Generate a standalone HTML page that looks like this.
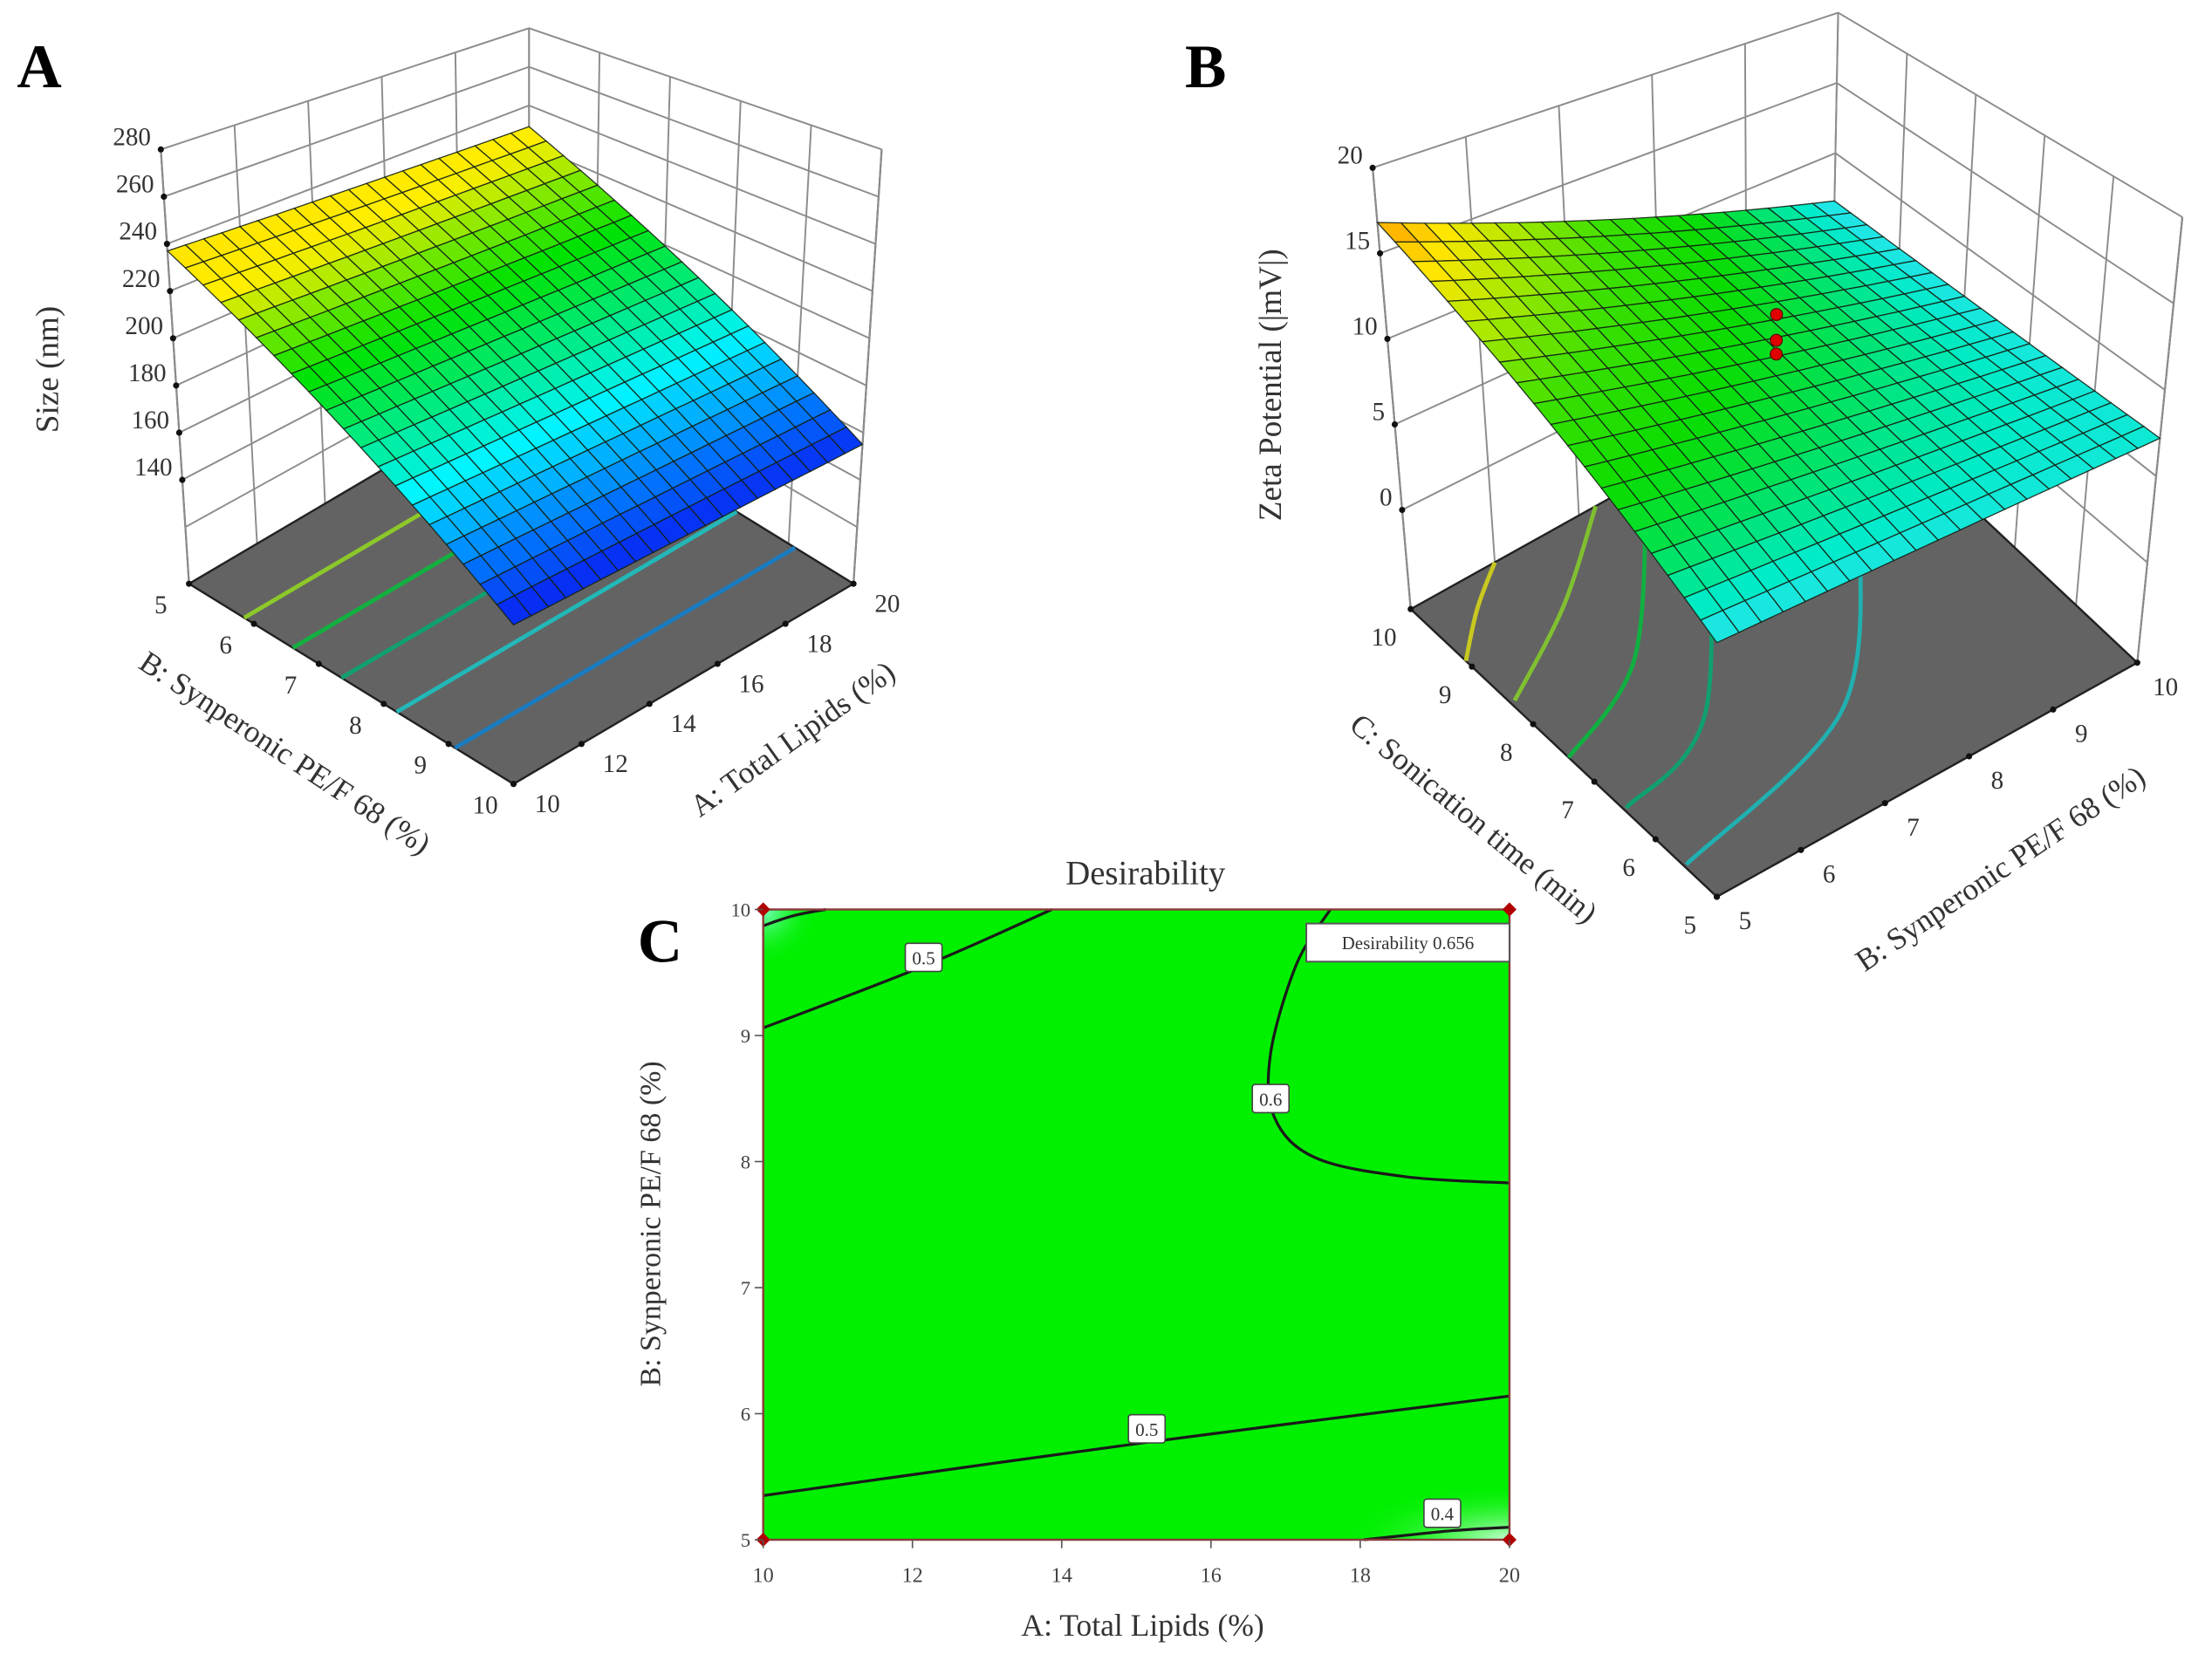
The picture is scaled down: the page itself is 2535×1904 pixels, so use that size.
<!DOCTYPE html>
<html><head><meta charset="utf-8"><title>Response surfaces</title>
<style>
html,body{margin:0;padding:0;background:#fff;}
svg{display:block;font-family:"Liberation Serif",serif;}
</style></head>
<body>
<svg id="fig" xmlns="http://www.w3.org/2000/svg" width="2535" height="1904" viewBox="0 0 1568 1178" preserveAspectRatio="none">
<rect x="0" y="0" width="1568" height="1178" fill="#fff"/>
<g id="panelA"></g>
<g id="panelB"></g>
<g id="panelC"></g>
<text x="12" y="62" font-size="44" font-weight="bold">A</text>
<text x="840" y="62" font-size="44" font-weight="bold">B</text>
<text x="452" y="682" font-size="44" font-weight="bold">C</text>
</svg>
<script>
// ---------- Panel A data ----------
const aLevels = [10, 20];            // A: Total Lipids (%)
const bLevelsA = [5, 10];            // B: Synperonic (%)
const sizeValues = [[237, 153], [229, 155]]; // [A index][B index], nm
const sizeTicks = [140, 160, 180, 200, 220, 240, 260, 280];
const sizeGridLines = [120, 140, 160, 180, 200, 220, 240, 260, 280];
const aTicksA = [10, 12, 14, 16, 18, 20];
const bTicksA = [5, 6, 7, 8, 9, 10];
const sizeFloorContours = [5.85, 6.6, 7.35, 8.2, 9.1];
const sizeContourColors = ['#8cc82a', '#12b040', '#10a070', '#22b8b8', '#1a7cc0'];

// ---------- Panel B data ----------
const bLevelsB = [5, 10];            // B: Synperonic (%)
const cLevels = [5, 10];             // C: Sonication time (min)
const zetaValues = [[6.7, 16.8], [7.2, 6.6]]; // [B index][C index]
const zetaTicks = [0, 5, 10, 15, 20];
const bTicksB = [5, 6, 7, 8, 9, 10];
const cTicksB = [5, 6, 7, 8, 9, 10];
const designB = [7.5, 7.5, 7.5];
const designC = [7.5, 7.5, 7.5];
const designZ = [12.9, 11.4, 10.6];
const zetaContourB = [
  [5.0, 5.5, 6.0],
  [5.05, 6.16, 7.2],
  [5.0, 6.28, 7.8],
  [5.03, 6.4, 8.5],
  [5.03, 7.38, 8.9]
];
const zetaContourC = [
  [9.1, 9.6, 10],
  [8.37, 9.1, 10],
  [7.42, 8.1, 10],
  [6.52, 7.1, 10],
  [5.54, 6.25, 8.0]
];
const zetaContourColors = ['#c8c820', '#80c030', '#10b040', '#10a070', '#20b0b0'];

// ---------- Panel C data ----------
const cXTicks = [10, 12, 14, 16, 18, 20];
const cYTicks = [5, 6, 7, 8, 9, 10];
const desirContourA = [
  [10, 10.4, 10.84],
  [10, 12.15, 13.87],
  [17.6, 17.15, 16.8, 16.85, 17.4, 18.6, 20],
  [10, 15.1, 20],
  [18.05, 19.2, 20]
];
const desirContourB = [
  [9.87, 9.95, 10],
  [9.06, 9.55, 10],
  [10, 9.57, 8.86, 8.35, 8.03, 7.88, 7.83],
  [5.35, 5.77, 6.14],
  [5, 5.07, 5.1]
];
const desirLabelText = ['0.5', '0.6', '0.5', '0.4'];
const desirLabelA = [12.15, 16.8, 15.14, 19.1];
const desirLabelB = [9.62, 8.5, 5.88, 5.21];
const cornerA = [10, 20, 10, 20];
const cornerB = [10, 10, 5, 5];

const NS = 'http://www.w3.org/2000/svg';
function mk(tag, attrs, parent) {
  const e = document.createElementNS(NS, tag);
  for (const k in attrs) e.setAttribute(k, attrs[k]);
  parent.appendChild(e);
  return e;
}
function makeProj(F, R, L, hF, dU, dV, lu, lv) {
  return function (u, v, t) {
    const x = F[0] + u * (R[0] - F[0]) + v * (L[0] - F[0]) + t * (lu * u + lv * v);
    const y = F[1] + u * (R[1] - F[1]) + v * (L[1] - F[1]) - t * (hF - dU * u - dV * v);
    return [x, y];
  };
}
function lerpColor(stops, val) {
  if (val <= stops[0][0]) return stops[0][1];
  for (let i = 1; i < stops.length; i++) {
    if (val <= stops[i][0]) {
      const f = (val - stops[i - 1][0]) / (stops[i][0] - stops[i - 1][0]);
      const a = stops[i - 1][1], b = stops[i][1];
      return [0, 1, 2].map(k => Math.round(a[k] + f * (b[k] - a[k])));
    }
  }
  return stops[stops.length - 1][1];
}
function bil(vals, fu, fv) {
  return vals[0][0] * (1 - fu) * (1 - fv) + vals[1][0] * fu * (1 - fv) + vals[0][1] * (1 - fu) * fv + vals[1][1] * fu * fv;
}
function ptsStr(arr) { return arr.map(p => p[0].toFixed(1) + ',' + p[1].toFixed(1)).join(' '); }
function smoothPath(pts) {
  if (pts.length < 3) return 'M' + pts.map(p => p[0].toFixed(1) + ',' + p[1].toFixed(1)).join(' L');
  let d = 'M' + pts[0][0].toFixed(1) + ',' + pts[0][1].toFixed(1);
  for (let i = 0; i < pts.length - 1; i++) {
    const p0 = pts[i - 1] || pts[i], p1 = pts[i], p2 = pts[i + 1], p3 = pts[i + 2] || p2;
    const c1 = [p1[0] + (p2[0] - p0[0]) / 6, p1[1] + (p2[1] - p0[1]) / 6];
    const c2 = [p2[0] - (p3[0] - p1[0]) / 6, p2[1] - (p3[1] - p1[1]) / 6];
    d += ' C' + c1[0].toFixed(1) + ',' + c1[1].toFixed(1) + ' ' + c2[0].toFixed(1) + ',' + c2[1].toFixed(1) + ' ' + p2[0].toFixed(1) + ',' + p2[1].toFixed(1);
  }
  return d;
}

function draw3D(g, cfg) {
  const P = cfg.proj;
  const walls = mk('g', {}, g);
  
  
  const wc = '#8c8c8c';
  cfg.zGrid.forEach(z => {
    const t = cfg.tz(z);
    const l = mk('polyline', { points: ptsStr([P(0, 1, t), P(1, 1, t), P(1, 0, t)]), fill: 'none', stroke: wc, 'stroke-width': 1.2 }, walls);
    
    
  });
  const tTop = cfg.tz(cfg.zGrid[cfg.zGrid.length - 1]);
  cfg.uTicks.forEach(uv => {
    const u = cfg.tu(uv);
    const l = mk('line', {}, walls);
    const a = P(u, 1, 0), b = P(u, 1, tTop);
    l.setAttribute('x1', a[0]); l.setAttribute('y1', a[1]); l.setAttribute('x2', b[0]); l.setAttribute('y2', b[1]);
    l.setAttribute('stroke', wc); l.setAttribute('stroke-width', 1.2);
    
    
  });
  cfg.vTicks.forEach(vv => {
    const v = cfg.tv(vv);
    const l = mk('line', {}, walls);
    const a = P(1, v, 0), b = P(1, v, tTop);
    l.setAttribute('x1', a[0]); l.setAttribute('y1', a[1]); l.setAttribute('x2', b[0]); l.setAttribute('y2', b[1]);
    l.setAttribute('stroke', wc); l.setAttribute('stroke-width', 1.2);
    
    
  });
  const floor = mk('polygon', { points: ptsStr([P(0, 0, 0), P(1, 0, 0), P(1, 1, 0), P(0, 1, 0)]), fill: '#636363', stroke: '#222', 'stroke-width': 1.5 }, g);
  
  
  cfg.floorContours(g);
  cfg.zTicks.forEach(z => {
    const p = P(0, 1, cfg.tz(z));
    const c = mk('circle', { cx: p[0], cy: p[1], r: 2.2, fill: '#111' }, g);
    
    
    const tx = mk('text', { x: p[0] - 7, y: p[1] - 3, 'font-size': 18, 'text-anchor': 'end', fill: '#333' }, g);
    tx.textContent = z;
    
    
  });
  cfg.uTicks.forEach(val => {
    const p = P(cfg.tu(val), 0, 0);
    const c = mk('circle', { cx: p[0], cy: p[1], r: 2.2, fill: '#111' }, g);
    
    
    const tx = mk('text', { x: p[0] + cfg.uOff[0], y: p[1] + cfg.uOff[1] + 6, 'font-size': 18, 'text-anchor': 'middle', fill: '#333' }, g);
    tx.textContent = val;
    
    
  });
  cfg.vTicks.forEach(val => {
    const p = P(0, cfg.tv(val), 0);
    const c = mk('circle', { cx: p[0], cy: p[1], r: 2.2, fill: '#111' }, g);
    
    
    const tx = mk('text', { x: p[0] + cfg.vOff[0], y: p[1] + cfg.vOff[1] + 6, 'font-size': 18, 'text-anchor': 'middle', fill: '#333' }, g);
    tx.textContent = val;
    
    
  });
  const surf = mk('g', {}, g);
  
  
  const N = 20, cells = [];
  for (let i = 0; i < N; i++) for (let j = 0; j < N; j++) cells.push([i, j]);
  cells.sort((a, b) => (b[0] + b[1]) - (a[0] + a[1]));
  cells.forEach(([i, j]) => {
    const corners = [[i, j], [i + 1, j], [i + 1, j + 1], [i, j + 1]].map(([a, b]) => {
      const u = a / N, v = b / N;
      return P(u, v, cfg.tz(cfg.value(u, v)));
    });
    const val = cfg.value((i + 0.5) / N, (j + 0.5) / N);
    const col = lerpColor(cfg.stops, val);
    const poly = mk('polygon', { points: ptsStr(corners), fill: 'rgb(' + col.join(',') + ')', stroke: '#142014', 'stroke-width': 0.8, 'stroke-opacity': 0.9 }, surf);
    
    
  });
  [[0, 1], [1, 0]].forEach(([u, v]) => {
    const a = P(u, v, 0), b = P(u, v, tTop);
    const l = mk('line', { x1: a[0], y1: a[1], x2: b[0], y2: b[1], stroke: '#555', 'stroke-width': 1.3 }, g);
    
    
    g.insertBefore(l, g.firstChild);
  });
}

// ---------- Panel A ----------
(function () {
  const g = document.getElementById('panelA');
  const proj = makeProj([364, 556], [605, 414], [134, 414], 364, 56, 56, 20, -20);
  const zMin = 96, zMax = 280;
  const tz = z => (z - zMin) / (zMax - zMin);
  const tu = A => (A - aLevels[0]) / (aLevels[1] - aLevels[0]);
  const tv = B => (bLevelsA[1] - B) / (bLevelsA[1] - bLevelsA[0]);
  draw3D(g, {
    prefix: 'size', proj, tz, tu, tv,
    zGrid: sizeGridLines, zTicks: sizeTicks, uTicks: aTicksA, vTicks: bTicksA,
    uOff: [24, 14], vOff: [-20, 15],
    value: (u, v) => bil(sizeValues, u, 1 - v),
    stops: [[152, [10, 20, 240]], [166, [0, 130, 255]], [180, [0, 245, 255]], [196, [0, 232, 90]], [206, [0, 226, 0]], [216, [120, 232, 0]], [226, [255, 238, 0]], [240, [255, 225, 0]]],
    floorContours: function (gg) {
      sizeFloorContours.forEach((B, k) => {
        const a = proj(0, tv(B), 0), b = proj(1, tv(B), 0);
        const l = mk('line', { x1: a[0], y1: a[1], x2: b[0], y2: b[1], stroke: sizeContourColors[k], 'stroke-width': 3 }, gg);
        
        
      });
    }
  });
  const t1 = mk('text', { x: 0, y: 0, 'font-size': 23, 'text-anchor': 'middle', fill: '#333', transform: 'translate(41,262) rotate(-90)' }, g);
  t1.textContent = 'Size (nm)';
  
  
  const t2 = mk('text', { x: 0, y: 0, 'font-size': 22, 'text-anchor': 'middle', fill: '#333', transform: 'translate(198,540) rotate(33.5)' }, g);
  t2.textContent = 'B: Synperonic PE/F 68 (%)';
  
  
  const t3 = mk('text', { x: 0, y: 0, 'font-size': 22, 'text-anchor': 'middle', fill: '#333', transform: 'translate(566,530) rotate(-35.6)' }, g);
  t3.textContent = 'A: Total Lipids (%)';
  
  
})();

// ---------- Panel B ----------
(function () {
  const g = document.getElementById('panelB');
  const proj = makeProj([1217, 636], [1515, 470], [1000, 432], 372, 56, 59, 32, -27);
  const zMin = -5.8, zMax = 20;
  const tz = z => (z - zMin) / (zMax - zMin);
  const tu = B => (B - bLevelsB[0]) / (bLevelsB[1] - bLevelsB[0]);
  const tv = C => (C - cLevels[0]) / (cLevels[1] - cLevels[0]);
  draw3D(g, {
    prefix: 'zeta', proj, tz, tu, tv,
    zGrid: zetaTicks, zTicks: zetaTicks, uTicks: bTicksB, vTicks: cTicksB,
    uOff: [20, 17], vOff: [-19, 20],
    value: (u, v) => bil(zetaValues, u, v),
    stops: [[6.4, [60, 225, 255]], [7.4, [0, 235, 200]], [8.6, [0, 226, 90]], [10, [10, 220, 0]], [12, [60, 224, 0]], [13.8, [170, 232, 0]], [15.3, [255, 230, 0]], [17, [255, 150, 0]]],
    floorContours: function (gg) {
      zetaContourB.forEach((bs, k) => {
        const pts = bs.map((B, i) => proj(tu(B), tv(zetaContourC[k][i]), 0));
        const p = mk('path', { d: smoothPath(pts), fill: 'none', stroke: zetaContourColors[k], 'stroke-width': 3 }, gg);
        
        
      });
    }
  });
  designZ.forEach((z, i) => {
    const p = proj(tu(designB[i]), tv(designC[i]), tz(z));
    const c = mk('circle', { cx: p[0], cy: p[1], r: 4.2, fill: '#e00000', stroke: '#600', 'stroke-width': 0.8 }, g);
    
    
  });
  const t1 = mk('text', { x: 0, y: 0, 'font-size': 23, 'text-anchor': 'middle', fill: '#333', transform: 'translate(908,273) rotate(-90)' }, g);
  t1.textContent = 'Zeta Potential (|mV|)';
  
  
  const t2 = mk('text', { x: 0, y: 0, 'font-size': 22, 'text-anchor': 'middle', fill: '#333', transform: 'translate(1040,586) rotate(39.5)' }, g);
  t2.textContent = 'C: Sonication time (min)';
  
  
  const t3 = mk('text', { x: 0, y: 0, 'font-size': 22, 'text-anchor': 'middle', fill: '#333', transform: 'translate(1422,622) rotate(-34)' }, g);
  t3.textContent = 'B: Synperonic PE/F 68 (%)';
  
  
})();

// ---------- Panel C ----------
(function () {
  const g = document.getElementById('panelC');
  const x0 = 541, x1 = 1070, y0 = 1092, y1 = 645;
  const xs = A => x0 + (A - 10) / 10 * (x1 - x0);
  const ys = B => y0 - (B - 5) / 5 * (y0 - y1);
  const defs = mk('defs', {}, g);
  defs.innerHTML = '<radialGradient id="tl" cx="0" cy="0" r="1"><stop offset="0" stop-color="#7dffc8"/><stop offset="1" stop-color="#00f000" stop-opacity="0"/></radialGradient>' +
    '<radialGradient id="br" cx="1" cy="1" r="1"><stop offset="0" stop-color="#c8ffd8"/><stop offset="1" stop-color="#00f000" stop-opacity="0"/></radialGradient>';
  const bg = mk('rect', { x: x0, y: y1, width: x1 - x0, height: y0 - y1, fill: '#00f000' }, g);
  
  
  const s1 = mk('rect', { x: x0, y: y1, width: 40, height: 40, fill: 'url(#tl)' }, g);
  
  
  const s2 = mk('rect', { x: x1 - 120, y: y0 - 40, width: 120, height: 40, fill: 'url(#br)' }, g);
  
  
  desirContourA.forEach((as, k) => {
    const pts = as.map((A, i) => [xs(A), ys(desirContourB[k][i])]);
    const p = mk('path', { d: smoothPath(pts), fill: 'none', stroke: '#1a1a1a', 'stroke-width': 2 }, g);
    
    
  });
  desirLabelText.forEach((txt, i) => {
    const cx = xs(desirLabelA[i]), cy = ys(desirLabelB[i]);
    const r = mk('rect', { x: cx - 13, y: cy - 10, width: 26, height: 20, fill: '#fff', stroke: '#444', 'stroke-width': 1, rx: 2 }, g);
    
    
    const t = mk('text', { x: cx, y: cy + 5, 'font-size': 13, 'text-anchor': 'middle', fill: '#333' }, g);
    t.textContent = txt;
    
    
  });
  const frame = mk('rect', { x: x0, y: y1, width: x1 - x0, height: y0 - y1, fill: 'none', stroke: '#8a3a3a', 'stroke-width': 1.5 }, g);
  
  
  cornerA.forEach((A, i) => {
    const cx = xs(A), cy = ys(cornerB[i]);
    const d = mk('polygon', { points: ptsStr([[cx, cy - 5], [cx + 5, cy], [cx, cy + 5], [cx - 5, cy]]), fill: '#b00000' }, g);
    
    
  });
  const fb = mk('rect', { x: 926, y: 655, width: 144, height: 27, fill: '#fff', stroke: '#555', 'stroke-width': 1.2 }, g);
  
  
  const ft = mk('text', { x: 998, y: 673, 'font-size': 13, 'text-anchor': 'middle', fill: '#333' }, g);
  ft.textContent = 'Desirability  0.656';
  
  
  cXTicks.forEach(A => {
    const x = xs(A);
    const l = mk('line', { x1: x, y1: y0, x2: x, y2: y0 + 6, stroke: '#555', 'stroke-width': 1 }, g);
    
    
    const t = mk('text', { x: x, y: y0 + 30, 'font-size': 15, 'text-anchor': 'middle', fill: '#444' }, g);
    t.textContent = A;
    
    
  });
  cYTicks.forEach(B => {
    const y = ys(B);
    const l = mk('line', { x1: x0 - 6, y1: y, x2: x0, y2: y, stroke: '#555', 'stroke-width': 1 }, g);
    
    
    const t = mk('text', { x: x0 - 9, y: y + 5, 'font-size': 14, 'text-anchor': 'end', fill: '#444' }, g);
    t.textContent = B;
    
    
  });
  const title = mk('text', { x: 812, y: 627, 'font-size': 24, 'text-anchor': 'middle', fill: '#333' }, g);
  title.textContent = 'Desirability';
  
  
  const xt = mk('text', { x: 810, y: 1160, 'font-size': 22, 'text-anchor': 'middle', fill: '#333' }, g);
  xt.textContent = 'A: Total Lipids (%)';
  
  
  const yt = mk('text', { x: 0, y: 0, 'font-size': 21, 'text-anchor': 'middle', fill: '#333', transform: 'translate(468,868) rotate(-90)' }, g);
  yt.textContent = 'B: Synperonic PE/F 68 (%)';
  
  
})();
</script>
</body></html>
